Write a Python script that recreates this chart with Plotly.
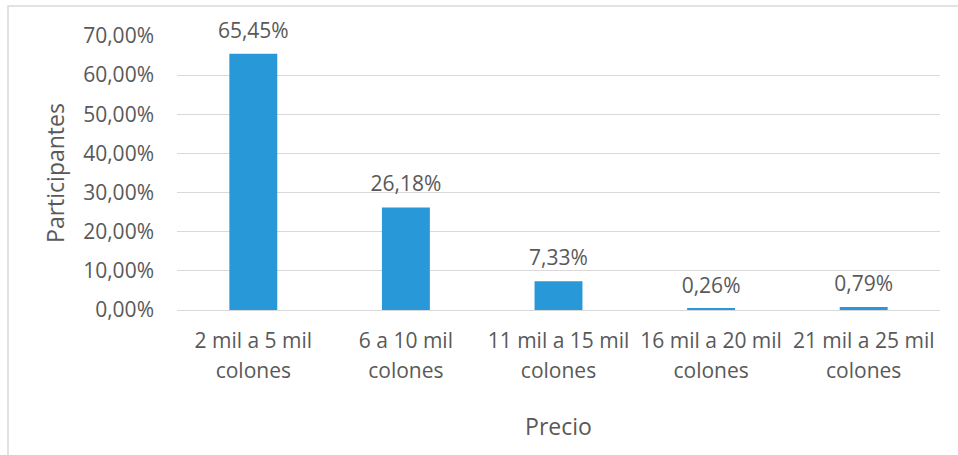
import plotly.graph_objects as go

categories = ["2 mil a 5 mil", "6 a 10 mil", "11 mil a 15 mil", "16 mil a 20 mil", "21 mil a 25 mil"]
second_line = ["colones", "colones", "colones", "colones", "colones"]
values = [0.6545, 0.2618, 0.0733, 0.0026, 0.0079]

W, H = 958, 455
L, R, T, B = 177, 18, 36, 145
pw, ph = W - L - R, H - T - B

TXT = "#595959"
font_family = "Open Sans, Liberation Sans, sans-serif"

fig = go.Figure()
fig.add_trace(go.Bar(
    x=categories, y=values,
    marker=dict(color="#2998D8", line=dict(width=0)),
    showlegend=False, hoverinfo="x+y",
))
# value labels above the bars
fig.add_trace(go.Scatter(
    x=categories, y=values, mode="markers+text",
    marker=dict(size=16, opacity=0),
    texttemplate="%{y:.2%}", textposition="top center",
    textfont=dict(size=21, color=TXT),
    cliponaxis=False, hoverinfo="skip", showlegend=False,
))
# invisible helper trace on the second x axis carrying the second line of labels
fig.add_trace(go.Scatter(
    x=categories, y=values, xaxis="x2", mode="markers",
    marker=dict(opacity=0), hoverinfo="skip", showlegend=False,
))

fig.update_layout(
    width=W, height=H,
    margin=dict(l=L, r=R, t=T, b=B),
    paper_bgcolor="white", plot_bgcolor="white",
    separators=",.",
    font=dict(family=font_family, color=TXT, size=21),
    bargap=0.686,
    showlegend=False,
    xaxis=dict(
        type="category", categoryarray=categories,
        tickfont=dict(size=21, color=TXT),
        showgrid=False, showline=False, ticks="", ticklabelstandoff=16,
    ),
    xaxis2=dict(
        type="category", categoryarray=categories,
        overlaying="x", side="bottom", anchor="y", matches="x",
        tickmode="array", tickvals=categories, ticktext=second_line,
        tickfont=dict(size=21, color=TXT),
        showgrid=False, showline=False, ticks="", ticklabelstandoff=46,
        title=dict(text="Precio", font=dict(size=23, color=TXT), standoff=35),
    ),
    yaxis=dict(
        title=dict(text="Participantes", font=dict(size=23, color=TXT), standoff=12),
        range=[0, 0.7], dtick=0.1, tickformat=".2%",
        tickfont=dict(size=21, color=TXT),
        showgrid=True, gridcolor="#d9d9d9", gridwidth=1,
        zeroline=True, zerolinecolor="#d9d9d9", zerolinewidth=1,
        showline=False, ticks="", ticklabelstandoff=22,
    ),
    shapes=[dict(
        type="rect", xref="paper", yref="paper",
        x0=(8 - L) / pw, x1=(W + 5 - L) / pw,
        y0=-(H + 5 - (H - B)) / ph, y1=(H - B - 6) / ph,
        line=dict(color="#d9d9d9", width=1.5), fillcolor="rgba(0,0,0,0)", layer="below",
    )],
)

fig.write_html("out.html")
